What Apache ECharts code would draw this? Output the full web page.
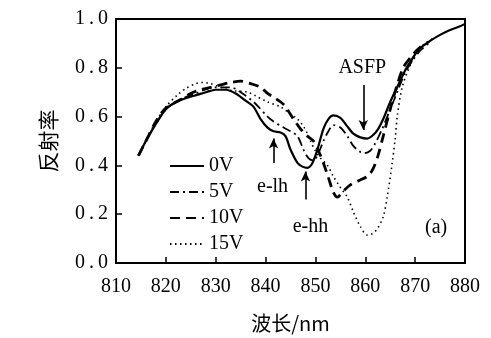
<!DOCTYPE html>
<html><head><meta charset="utf-8">
<script src="https://cdn.jsdelivr.net/npm/echarts@6/dist/echarts.min.js"></script>
<style>html,body{margin:0;padding:0;background:#fff}#c{width:491px;height:338px}</style>
</head><body><div id="c"></div>
<script>
var xTicks = [810, 820, 830, 840, 850, 860, 870, 880];
var yTicks = [0.0, 0.2, 0.4, 0.6, 0.8, 1.0];
var seriesNames = ['0V', '5V', '10V', '15V'];

var v0 = [[814.5,0.44],[816,0.50],[818,0.57],[820,0.63],[822,0.66],[824,0.675],[826.4,0.69],[828,0.70],[830,0.71],[832,0.71],[834,0.695],[836,0.665],[837.6,0.64],[839,0.59],[840.4,0.555],[841.6,0.54],[843,0.535],[844,0.52],[845,0.465],[846.4,0.41],[847.4,0.395],[848.4,0.39],[849.4,0.41],[850.4,0.465],[851.6,0.55],[852.6,0.59],[853.6,0.605],[855,0.595],[856.4,0.56],[857.6,0.53],[859,0.515],[860.4,0.51],[861.6,0.525],[862.6,0.55],[863.6,0.59],[865,0.66],[866.4,0.72],[868,0.79],[869.5,0.84],[871,0.88],[873,0.91],[875,0.935],[877,0.955],[879,0.97],[880,0.98]];
var v5 = [[814.5,0.44],[816,0.50],[818,0.57],[820,0.63],[822,0.66],[824,0.68],[826,0.695],[828.4,0.715],[830,0.72],[832,0.72],[833,0.72],[835,0.70],[837.6,0.66],[840.4,0.60],[841.6,0.58],[843.6,0.555],[845,0.54],[846.4,0.52],[847.6,0.465],[848.6,0.43],[849.6,0.42],[850.6,0.45],[851.6,0.50],[852.6,0.54],[853.6,0.565],[855,0.555],[856.4,0.52],[857.6,0.48],[859,0.455],[859.8,0.45],[861,0.46],[862,0.49],[863.4,0.55],[865,0.63],[866.4,0.70],[868,0.78],[869.5,0.83],[871,0.87],[873,0.905]];
var v10 = [[814.5,0.44],[816,0.50],[818,0.58],[820,0.635],[823,0.67],[825,0.695],[827,0.71],[829,0.72],[831,0.73],[833,0.74],[835,0.745],[837,0.735],[839,0.72],[840.4,0.695],[841.6,0.68],[843.6,0.65],[845.6,0.59],[847,0.55],[848.4,0.52],[849.6,0.50],[850.6,0.46],[851.6,0.41],[852.6,0.35],[853.6,0.29],[854.4,0.27],[855.6,0.295],[857,0.32],[859,0.34],[860.4,0.355],[861.4,0.38],[862.4,0.43],[863.6,0.52],[865,0.63],[866.4,0.73],[867.6,0.80],[869,0.84],[870.5,0.875],[872,0.90]];
var v15 = [[814.5,0.44],[816,0.50],[818,0.58],[820,0.64],[822.4,0.69],[824,0.715],[826,0.735],[827.5,0.74],[829,0.735],[831,0.72],[832.4,0.71],[834,0.705],[836.4,0.70],[838,0.685],[840.4,0.66],[843,0.64],[845,0.61],[846.4,0.59],[847.6,0.56],[848.4,0.53],[849,0.50],[850,0.46],[851,0.43],[852.4,0.40],[853.6,0.355],[855,0.31],[856.4,0.27],[857.6,0.21],[859,0.15],[860.4,0.115],[861.4,0.12],[862.4,0.14],[863.6,0.19],[864.4,0.27],[865.4,0.41],[866,0.51],[866.4,0.60],[867.4,0.72],[869,0.81],[870.4,0.87],[872,0.90],[874,0.925]];

var serif = '"Liberation Serif", "Times New Roman", serif';
var cjk = '"Noto Sans CJK SC", sans-serif';

var chart = echarts.init(document.getElementById('c'));
function mkSeries(name, data, lt, w) {
  return {
    name: name, type: 'line', data: data, symbol: 'none', smooth: 0.3,
    lineStyle: { color: '#000', width: w, type: lt }, itemStyle: { color: '#000' },
    animation: false, z: 3
  };
}
var s0 = mkSeries(seriesNames[0], v0, 'solid', 2.2);
s0.markLine = {
  silent: true, animation: false, symbol: ['none', 'arrow'], symbolSize: [7, 10],
  lineStyle: { color: '#000', width: 1.6, type: 'solid' }, label: { show: false },
  data: [
    [{ coord: [841.6, 0.41] }, { coord: [841.6, 0.51] }],
    [{ coord: [848.0, 0.26] }, { coord: [848.0, 0.375] }],
    [{ coord: [859.6, 0.73] }, { coord: [859.6, 0.545] }]
  ]
};
s0.markPoint = {
  silent: true, animation: false, symbol: 'circle', symbolSize: 1,
  itemStyle: { color: 'rgba(0,0,0,0)' },
  label: { show: true, position: 'inside', color: '#000', fontFamily: serif, fontSize: 20 },
  data: [
    { coord: [841.4, 0.314], label: { formatter: 'e-lh' } },
    { coord: [849.0, 0.147], label: { formatter: 'e-hh' } },
    { coord: [859.4, 0.80], label: { formatter: 'ASFP' } },
    { coord: [874.2, 0.143], label: { formatter: '(a)' } }
  ]
};
function yFmt(v) {
  var t = yTicks.filter(function (k) { return Math.abs(k - v) < 1e-6; });
  if (!t.length) return '';
  var s = t[0].toFixed(1);
  return s.replace('.', '\u2009.\u2009');
}
var option = {
  backgroundColor: '#fff',
  animation: false,
  grid: { left: 116, right: 26, top: 19, bottom: 74, show: true, borderColor: '#000', borderWidth: 2 },
  legend: {
    orient: 'vertical', left: 164, top: 151, itemWidth: 34, itemHeight: 12, itemGap: 6,
    data: seriesNames, selectedMode: false,
    itemStyle: { color: 'rgba(0,0,0,0)', borderWidth: 0, opacity: 0 },
    textStyle: { fontFamily: serif, fontSize: 20, color: '#000' }
  },
  xAxis: {
    type: 'value', min: 810, max: 880, interval: 10,
    name: '波长/nm', nameLocation: 'middle', nameGap: 50,
    nameTextStyle: { fontFamily: cjk, fontSize: 20, color: '#000' },
    axisLine: { lineStyle: { color: '#000', width: 2 } },
    axisTick: { inside: true, length: 6, lineStyle: { color: '#000', width: 1.5 } },
    axisLabel: { fontFamily: serif, fontSize: 20, color: '#000', margin: 14,
      formatter: function (v) { return xTicks.indexOf(v) >= 0 ? String(v) : ''; } },
    splitLine: { show: false }
  },
  yAxis: {
    type: 'value', min: 0, max: 1.0, interval: 0.2,
    name: '反射率', nameLocation: 'middle', nameGap: 57, nameRotate: 90,
    nameTextStyle: { fontFamily: cjk, fontSize: 21, color: '#000' },
    axisLine: { lineStyle: { color: '#000', width: 2 } },
    axisTick: { inside: true, length: 6, lineStyle: { color: '#000', width: 1.5 } },
    axisLabel: { fontFamily: serif, fontSize: 20, color: '#000', margin: 8, formatter: yFmt },
    splitLine: { show: false }
  },
  series: [
    s0,
    mkSeries(seriesNames[1], v5, [9, 4, 2, 4], 1.8),
    mkSeries(seriesNames[2], v10, [10, 6], 2.8),
    mkSeries(seriesNames[3], v15, [1.5, 3.5], 1.6)
  ]
};
chart.setOption(option);
</script></body></html>
